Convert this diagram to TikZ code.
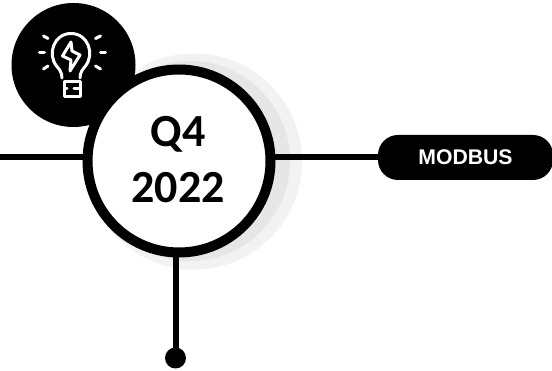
\documentclass[tikz,border=0pt]{standalone}
\usepackage{fontspec}
\setmainfont{Carlito}
\newfontfamily\pillfont{Liberation Sans}
\pgfdeclarelayer{lines}
\pgfsetlayers{lines,main}
\definecolor{ink}{HTML}{000000}
\tikzset{
  link/.style={line width=6pt,draw=ink},
  halo/.style={circle,fill=ink,opacity=.05,inner sep=0pt,minimum size=#1},
  iconline/.style={draw=white,line width=3pt,line cap=round,line join=round},
  year/.style={font=\fontsize{46}{56}\selectfont\bfseries,text=ink,align=center,inner sep=0pt},
  tag/.style={fill=ink,text=white,rounded corners=20pt,minimum width=175pt,minimum height=45pt,inner sep=0pt,font=\fontsize{21.2}{24}\selectfont\pillfont\bfseries}
}
\begin{document}
\begin{tikzpicture}[x=1pt,y=-1pt]
\useasboundingbox (0,0) rectangle (552,371);
\node[halo=216pt] (halo1) at (194,161.5) {};
\node[halo=200pt] (halo2) at (190,161) {};
\node[circle,fill=ink,inner sep=0pt,minimum size=124pt] (badge) at (73.5,65) {};
\node[circle,draw=ink,fill=white,line width=10pt,inner sep=0pt,minimum size=183pt] (main) at (179,161) {};
\node[year,anchor=base] (q) at (178,147) {Q4};
\node[year,anchor=base] (y) at (178,203) {2022};
\node[tag] (pill) at (465.5,157.5) {MODBUS};
\node[circle,fill=ink,inner sep=0pt,minimum size=21pt] (dot) at (175.5,358) {};
\coordinate (leftEnd) at (0,157);
\begin{pgfonlayer}{lines}
\draw[link] (leftEnd) -- (leftEnd -| main.center);
\draw[link] (main.center |- pill.west) -- (pill.west);
\draw[link] (dot.center) -- (dot.center |- main.center);
\end{pgfonlayer}
% bulb icon
\draw[iconline] (62,78) .. controls (62,72) and (59,69) .. (56.5,66) .. controls (47,54) and (54,33.5) .. (71,33.5) .. controls (88,33.5) and (95,54) .. (85.5,66) .. controls (83,69) and (80,72) .. (80,78);
\draw[iconline] (64.5,81.5) -- (80.5,81.5) -- (80.5,96.5) -- (64.5,96.5) -- cycle;
\draw[iconline] (64.5,89) -- (67,89) (74,89) -- (80.5,89);
\draw[iconline] (71,42) -- (62.5,56) -- (71,60) -- (70,71) -- (80,55) -- (72,51) -- cycle;
\draw[iconline] (39.5,53) -- (44.5,53) (100.5,53) -- (105.5,53);
\draw[iconline] (43.5,36) -- (48,38.5) (95.5,38.5) -- (100.5,36) (43.5,69) -- (48,66) (95.5,66) -- (100.5,69);
\end{tikzpicture}
\end{document}
